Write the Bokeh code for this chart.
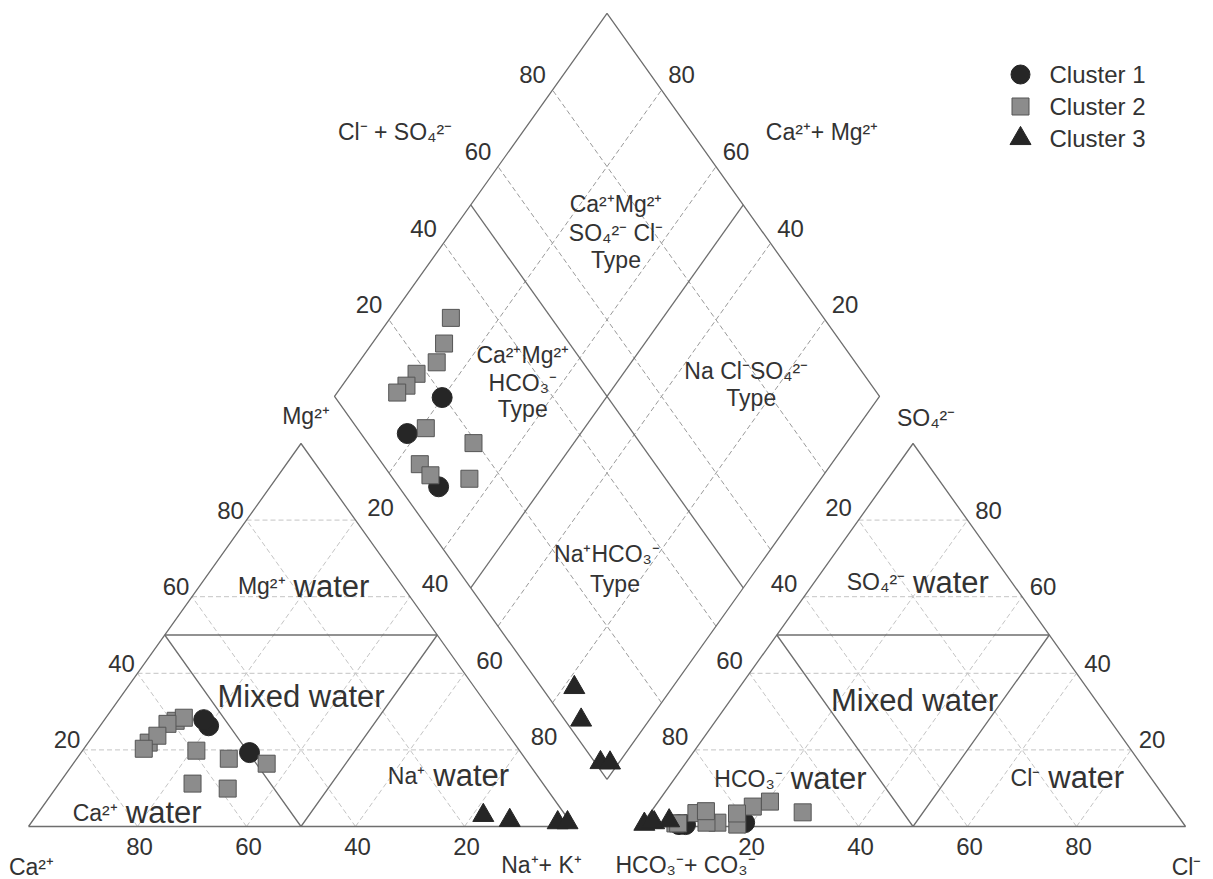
import numpy as np
from bokeh.plotting import figure
from bokeh.models import Range1d
from bokeh.core.properties import value
from bokeh.embed import file_html
from bokeh.resources import INLINE

# ----------------------------- data (% of meq/L) -----------------------------
cluster_names = ["Cluster 1", "Cluster 2", "Cluster 3"]

# Cluster 1
c1_ca = [53.8, 53.9, 49.8]
c1_mg = [26.3, 27.9, 19.3]
c1_nak = [19.9, 18.2, 30.9]
c1_hco3 = [80.4, 91.5, 92.7]
c1_cl = [18.6, 8.0, 6.8]
c1_so4 = [1.0, 0.5, 0.5]

# Cluster 2
c2_ca = [67.0, 59.2, 57.3, 61.1, 64.5, 68.7, 59.3, 58.5, 64.3, 54.4, 48.1]
c2_mg = [21.9, 27.6, 28.4, 26.8, 23.7, 20.3, 19.8, 9.9, 11.2, 17.7, 16.4]
c2_nak = [11.1, 13.2, 14.3, 12.1, 11.8, 11.0, 20.9, 31.6, 24.5, 27.9, 35.5]
c2_hco3 = [68.4, 73.0, 76.8, 82.0, 85.4, 88.0, 87.4, 80.6, 93.2, 92.7, 86.0]
c2_cl = [27.9, 20.5, 18.0, 17.5, 13.6, 8.5, 11.6, 16.0, 6.0, 6.5, 10.0]
c2_so4 = [3.7, 6.5, 5.2, 0.5, 1.0, 3.5, 1.0, 3.4, 0.8, 0.8, 4.0]

# Cluster 3
c3_ca = [15.1, 10.9, 2.4, 0.6]
c3_mg = [2.9, 1.6, 1.0, 1.0]
c3_nak = [82.0, 87.5, 96.6, 98.4]
c3_hco3 = [94.0, 97.0, 99.0, 97.3]
c3_cl = [4.5, 2.0, 0.4, 1.5]
c3_so4 = [1.5, 1.0, 0.6, 1.2]

ticks = [20, 40, 60, 80]

# ----------------------------- geometry -----------------------------
W, HT = 1213, 879
X0, Y0, SX, SY = 28.0, 826.0, 5.45, 4.4225   # pixel mapping of data units
H = np.sqrt(3) / 2
GAP = 12.3
XR = 100 + GAP
BX, BY = 100 + GAP / 2, GAP * H

FONT = value("Liberation Sans")
TXT = "#333333"
LINE = "#6e6e6e"


def off(x, y, dxp=0.0, dyp=0.0):
    return x + dxp / SX, y - dyp / SY


def px2d(px, py):
    return (px - X0) / SX, (Y0 - py) / SY


def cat_xy(ca, mg, na):
    ca, mg, na = (np.asarray(v, float) for v in (ca, mg, na))
    t = ca + mg + na
    mg = mg / t * 100
    na = na / t * 100
    return na + mg / 2, mg * H


def an_xy(hco3, cl, so4):
    hco3, cl, so4 = (np.asarray(v, float) for v in (hco3, cl, so4))
    t = hco3 + cl + so4
    cl = cl / t * 100
    so4 = so4 / t * 100
    return XR + cl + so4 / 2, so4 * H


def dia(a, c):
    return BX + 50 * (np.asarray(a) - np.asarray(c)), BY + 100 * H * (np.asarray(a) + np.asarray(c))


def dia_xy(ca, mg, na, hco3, cl, so4):
    ca, mg, na, hco3, cl, so4 = (np.asarray(v, float) for v in (ca, mg, na, hco3, cl, so4))
    c = (ca + mg) / (ca + mg + na)
    a = (cl + so4) / (hco3 + cl + so4)
    return dia(a, c)


p = figure(width=W, height=HT,
           x_range=Range1d(-X0 / SX, (W - X0) / SX),
           y_range=Range1d((Y0 - HT) / SY, Y0 / SY),
           output_backend="svg", toolbar_location=None, min_border=0,
           x_axis_location=None, y_axis_location=None,
           outline_line_color=None, background_fill_color="white",
           border_fill_color="white")
p.grid.visible = False

# ----------------------------- grid lines -----------------------------
gx, gy = [], []
for k in ticks:
    for ox in (0, XR):
        gx.append([ox + k / 2, ox + 100 - k / 2]); gy.append([k * H, k * H])
        gx.append([ox + 100 - k, ox + (100 - k) / 2]); gy.append([0, (100 - k) * H])
        gx.append([ox + k, ox + 50 + k / 2]); gy.append([0, (100 - k) * H])
p.multi_line(gx, gy, line_color="#c4c4c4", line_width=1, line_dash="5 3")

dx_, dy_ = [], []
for k in ticks:
    f = k / 100
    x1, y1 = dia(f, 0); x2, y2 = dia(f, 1)
    dx_.append([x1, x2]); dy_.append([y1, y2])
    x1, y1 = dia(0, f); x2, y2 = dia(1, f)
    dx_.append([x1, x2]); dy_.append([y1, y2])
p.multi_line(dx_, dy_, line_color="#9a9a9a", line_width=1, line_dash="5 3")

# ----------------------------- outlines -----------------------------
sx, sy = [], []
for ox in (0, XR):
    sx.append([ox, ox + 100, ox + 50, ox]); sy.append([0, 0, 100 * H, 0])
    sx.append([ox + 25, ox + 75]); sy.append([50 * H, 50 * H])
    sx.append([ox + 25, ox + 50, ox + 75]); sy.append([50 * H, 0, 50 * H])
corners = [(0, 0), (1, 0), (1, 1), (0, 1), (0, 0)]
cx = [float(dia(a, c)[0]) for a, c in corners]
cy = [float(dia(a, c)[1]) for a, c in corners]
sx.append(cx); sy.append(cy)
for a0, c0, a1, c1 in [(0.5, 0, 0.5, 1), (0, 0.5, 1, 0.5)]:
    x1, y1 = dia(a0, c0); x2, y2 = dia(a1, c1)
    sx.append([float(x1), float(x2)]); sy.append([float(y1), float(y2)])
p.multi_line(sx, sy, line_color=LINE, line_width=1.3)

# ----------------------------- samples -----------------------------
styles = [
    dict(marker="circle", size=20, fill_color="#262626", line_color="#262626"),
    dict(marker="square", size=17, fill_color="#8c8c8c", line_color="#555555"),
    dict(marker="triangle", size=21, fill_color="#262626", line_color="#262626"),
]
data = [
    (c1_ca, c1_mg, c1_nak, c1_hco3, c1_cl, c1_so4),
    (c2_ca, c2_mg, c2_nak, c2_hco3, c2_cl, c2_so4),
    (c3_ca, c3_mg, c3_nak, c3_hco3, c3_cl, c3_so4),
]
for (ca, mg, na, hc, cl, so), st in zip(data, styles):
    x1, y1 = cat_xy(ca, mg, na)
    x2, y2 = an_xy(hc, cl, so)
    x3, y3 = dia_xy(ca, mg, na, hc, cl, so)
    xs = np.concatenate([x1, x3, x2]); ys = np.concatenate([y1, y3, y2])
    p.scatter(xs, ys, line_width=1, **st)

# ----------------------------- tick labels -----------------------------
tx, ty, tt = [], [], []


def add(lx, ly, dxp, dyp, t, X=tx, Y=ty, T=tt):
    xx, yy = off(float(lx), float(ly), dxp, dyp)
    X.append(xx); Y.append(yy); T.append(t)


for k in ticks:
    add(100 - k, 0, 2, 20, str(k))                         # Ca2+ base
    add(k / 2, k * H, -16, -10, str(k))                    # Mg2+ edge
    add(50 + k / 2, (100 - k) * H, 25, -13, str(k))        # Na+ + K+ edge
    add(XR + k, 0, 2, 20, str(k))                          # Cl- base
    add(XR + (100 - k) / 2, (100 - k) * H, -20, -13, str(k))  # HCO3- edge
    add(XR + (100 - k) + k / 2, k * H, 21, -10, str(k))    # SO4 edge
    a_, b_ = dia(k / 100, 1); add(a_, b_, -20, -15, str(k))  # Cl- + SO4
    a_, b_ = dia(1, k / 100); add(a_, b_, 20, -15, str(k))   # Ca + Mg
p.text(tx, ty, text=tt, text_font=FONT, text_font_size="24px", text_color=TXT,
       text_align="center", text_baseline="middle")

# ----------------------------- axis titles -----------------------------
ax, ay, at = [], [], []
dtop = dia(1, 1)
for (lx, ly), dxp, dyp, t in [
    ((0, 0), 3, 40, "Ca²⁺"),
    ((100, 0), -32, 38, "Na⁺+ K⁺"),
    ((XR, 0), 45, 38, "HCO₃⁻+ CO₃⁻"),
    ((XR + 100, 0), 1, 40, "Cl⁻"),
    ((50, 100 * H), 5, -28, "Mg²⁺"),
    ((XR + 50, 100 * H), 13, -26, "SO₄²⁻"),
    (dtop, -212, 119, "Cl⁻ + SO₄²⁻"),
    (dtop, 215, 119, "Ca²⁺+ Mg²⁺"),
]:
    add(lx, ly, dxp, dyp, t, ax, ay, at)
p.text(ax, ay, text=at, text_font=FONT, text_font_size="23px", text_color=TXT,
       text_align="center", text_baseline="middle")

# ----------------------------- region labels -----------------------------
ion_x, ion_y, ion_t, w_x, w_y, w_t = [], [], [], [], [], []
regions = [
    ((50, 200 * H / 3), -7.5, 15, "Mg²⁺"),
    ((25, 50 * H / 3), -39, 50, "Ca²⁺"),
    ((75, 50 * H / 3), -4, 13, "Na⁺"),
    ((XR + 50, 200 * H / 3), 0, 11, "SO₄²⁻"),
    ((XR + 25, 50 * H / 3), 14, 16, "HCO₃⁻"),
    ((XR + 75, 50 * H / 3), -1, 15, "Cl⁻"),
]
for (lx, ly), dxp, dyp, t in regions:
    add(lx, ly, dxp - 8, dyp, t, ion_x, ion_y, ion_t)
    add(lx, ly, dxp, dyp, "water", w_x, w_y, w_t)
p.text(ion_x, ion_y, text=ion_t, text_font=FONT, text_font_size="23px", text_color=TXT,
       text_align="right", text_baseline="alphabetic")
p.text(w_x, w_y, text=w_t, text_font=FONT, text_font_size="31px", text_color=TXT,
       text_align="left", text_baseline="alphabetic")

mx, my, mt = [], [], []
add(50, 100 * H / 3, 0, -2, "Mixed water", mx, my, mt)
add(XR + 50, 100 * H / 3, 1.5, 2, "Mixed water", mx, my, mt)
p.text(mx, my, text=mt, text_font=FONT, text_font_size="31px", text_color=TXT,
       text_align="center", text_baseline="alphabetic")

# ----------------------------- diamond field labels -----------------------------
fx, fy, ft = [], [], []
fields = [
    (dia(0.75, 0.75), [(9, -1, "Ca²⁺Mg²⁺"), (9, 28, "SO₄²⁻ Cl⁻"), (9, 55, "Type")]),
    (dia(0.25, 0.75), [(52, -41, "Ca²⁺Mg²⁺"), (52, -13, "HCO₃⁻"), (52, 13, "Type")]),
    (dia(0.75, 0.25), [(3, -25, "Na Cl⁻SO₄²⁻"), (8, 2, "Type")]),
    (dia(0.25, 0.25), [(0, -34, "Na⁺HCO₃⁻"), (8, -4, "Type")]),
]
for (lx, ly), lines in fields:
    for dxp, dyp, t in lines:
        add(lx, ly, dxp, dyp, t, fx, fy, ft)
p.text(fx, fy, text=ft, text_font=FONT, text_font_size="23px", text_color=TXT,
       text_align="center", text_baseline="middle")

# ----------------------------- legend -----------------------------
leg_rows = [74, 106, 138]
for name, st, ry in zip(cluster_names, styles, leg_rows):
    lx, ly = px2d(1020, ry)
    s = dict(st)
    if s["marker"] == "circle":
        s["size"] = 19
    p.scatter([lx], [ly], line_width=1, **s)
    tx2, ty2 = px2d(1049, ry)
    p.text([tx2], [ty2], text=[name], text_font=FONT, text_font_size="24px",
           text_color=TXT, text_align="left", text_baseline="middle")

open("out.html", "w").write(file_html(p, INLINE))
